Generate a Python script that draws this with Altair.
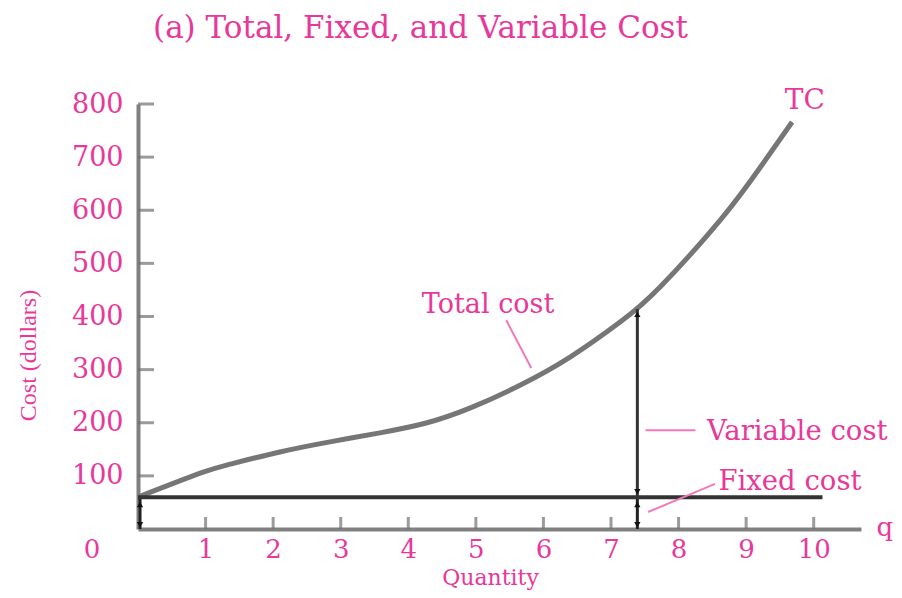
import altair as alt
import pandas as pd

PINK = "#e8389a"
SERIF = "DejaVu Serif"

# ---- data ----
q_vals = [0, 0.92, 1.36, 2.10, 2.84, 3.58, 4.25, 4.92, 5.66, 6.40, 7.14, 7.73, 8.62, 9.21, 9.68]
tc_vals = [60, 105, 122, 145, 164, 181, 199, 228, 271, 324, 390, 456, 582, 681, 766]
fixed_cost = 60
fc_end = 10.13
x_ticks = [1, 2, 3, 4, 5, 6, 7, 8, 9, 10]
y_ticks = [100, 200, 300, 400, 500, 600, 700, 800]
q_level = 7.39
vc_top = 414

# annotation texts and anchor positions (data units)
ann_text = ["Total cost", "TC", "Variable cost", "Fixed cost", "q", "0"]
ann_x = [5.18, 9.87, 8.42, 8.59, 10.93, -0.68]
ann_y = [421, 805, 183, 88, 2, -40]
ann_align = ["center", "center", "left", "left", "left", "center"]
ann_size = [27, 28, 27.5, 27.5, 26, 26]

# pointer lines
ptr_x = [5.45, 7.51, 7.55]
ptr_x2 = [5.82, 8.25, 8.54]
ptr_y = [393, 186, 32]
ptr_y2 = [303, 186, 85]

xs = alt.Scale(domain=[0, 10.7], nice=False, zero=False)
ys = alt.Scale(domain=[0, 800], nice=False, zero=False)

x_axis = alt.Axis(
    values=x_ticks, ticks=False, grid=False, labelFont=SERIF, labelFontSize=26, labelColor=PINK,
    labelPadding=7, domainColor="#808080", domainWidth=4, title="Quantity", titleFont=SERIF,
    titleFontSize=22, titleColor=PINK, titleFontWeight="normal", titleX=352, titleY=48,
    titleBaseline="middle", titleAnchor="start", titleAlign="center")
y_axis = alt.Axis(
    values=y_ticks, ticks=False, grid=False, labelFont=SERIF, labelFontSize=27, labelColor=PINK,
    labelPadding=15, domainColor="#808080", domainWidth=4, title="Cost (dollars)",
    titleFont="Liberation Serif", titleFontSize=24, titleColor=PINK, titleFontWeight="normal",
    titleX=-110, titleY=251, titleAngle=270, titleAlign="center", titleBaseline="middle",
    titleAnchor="start")


def X(field):
    return alt.X(field, type="quantitative", scale=xs, axis=x_axis)


def Y(field):
    return alt.Y(field, type="quantitative", scale=ys, axis=y_axis)


tc_df = pd.DataFrame({"q": q_vals, "cost": tc_vals})
tc_line = alt.Chart(tc_df).mark_line(color="#767676", strokeWidth=5, interpolate="natural", clip=False).encode(
    x=X("q"), y=Y("cost"))

xt_df = pd.DataFrame({"q": x_ticks, "zero": [0] * len(x_ticks)})
x_tick_marks = alt.Chart(xt_df).mark_tick(orient="vertical", size=12, thickness=3, color="#707070").encode(
    x=X("q"), y=Y("zero"), yOffset=alt.value(-6))

yt_df = pd.DataFrame({"q": [0] * len(y_ticks), "c": y_ticks})
y_tick_marks = alt.Chart(yt_df).mark_tick(orient="horizontal", size=16, thickness=3, color="#707070").encode(
    y=Y("c"), x=X("q"), xOffset=alt.value(8))

fc_df = pd.DataFrame({"q": [0], "q2": [fc_end], "c": [fixed_cost]})
fc_line = alt.Chart(fc_df).mark_rule(color="#333333", strokeWidth=4).encode(
    x=X("q"), x2="q2:Q", y=Y("c"))

vc_df = pd.DataFrame({"q": [q_level], "lo": [fixed_cost], "hi": [vc_top]})
vc_rule = alt.Chart(vc_df).mark_rule(color="#333333", strokeWidth=3).encode(
    x=X("q"), y=Y("lo"), y2="hi:Q")

fa_df = pd.DataFrame({"q": [0.03, q_level], "lo": [0, 0], "hi": [fixed_cost, fixed_cost]})
fc_arrows = alt.Chart(fa_df).mark_rule(color="#222222", strokeWidth=3).encode(
    x=X("q"), y=Y("lo"), y2="hi:Q")

up_df = pd.DataFrame({"q": [q_level, q_level, 0.03], "c": [vc_top - 10, fixed_cost - 14, fixed_cost - 14]})
up_heads = alt.Chart(up_df).mark_point(shape="triangle-up", filled=True, size=40, color="#111111", opacity=1).encode(
    x=X("q"), y=Y("c"))
dn_df = pd.DataFrame({"q": [q_level, q_level, 0.03], "c": [fixed_cost + 10, 8, 8]})
dn_heads = alt.Chart(dn_df).mark_point(shape="triangle-down", filled=True, size=40, color="#111111", opacity=1).encode(
    x=X("q"), y=Y("c"))

ptr_df = pd.DataFrame({"x": ptr_x, "x2": ptr_x2, "y": ptr_y, "y2": ptr_y2})
pointers = alt.Chart(ptr_df).mark_rule(color="#f07ab8", strokeWidth=2).encode(
    x=X("x"), x2="x2:Q", y=Y("y"), y2="y2:Q")

ann_df = pd.DataFrame({"t": ann_text, "x": ann_x, "y": ann_y, "a": ann_align, "s": ann_size})
texts = []
for al in ["center", "left"]:
    sub = ann_df[ann_df["a"] == al]
    texts.append(alt.Chart(sub).mark_text(font=SERIF, color=PINK, align=al, baseline="middle").encode(
        x=X("x"), y=Y("y"), text="t:N",
        size=alt.Size("s:Q", scale=None, legend=None)))

chart = alt.layer(tc_line, x_tick_marks, y_tick_marks, fc_arrows, vc_rule, fc_line, up_heads, dn_heads,
                  pointers, *texts).properties(
    width=723, height=425,
    title=alt.TitleParams("(a) Total, Fixed, and Variable Cost", font=SERIF, fontSize=31, color=PINK,
                          fontWeight="normal", anchor="middle", dx=-79, offset=42),
    autosize=alt.AutoSizeParams(type="none"),
    padding={"left": 130, "top": 96, "right": 33, "bottom": 62},
).configure_view(stroke=None)

chart.save("out.html", embed_options={"renderer": "svg", "actions": False})
